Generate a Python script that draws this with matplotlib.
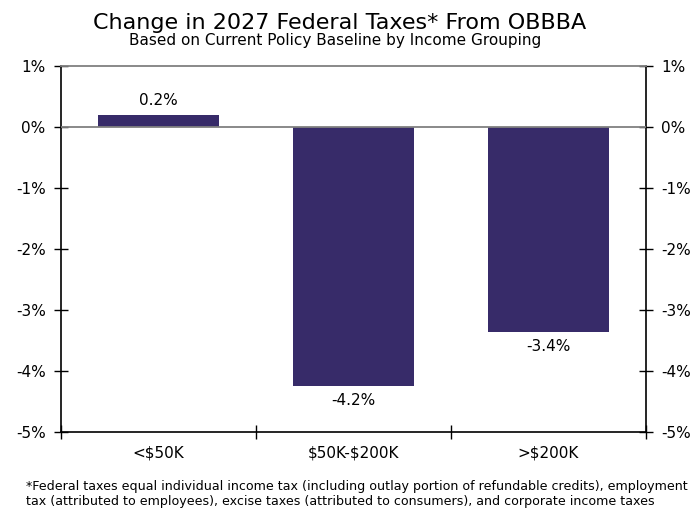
import matplotlib
matplotlib.use('Agg')
import matplotlib.pyplot as plt
from matplotlib.ticker import FixedLocator

# income groups and change in 2027 federal taxes (%)
groups = ['<\\$50K', '\\$50K-\\$200K', '>\\$200K']
change = [0.19, -4.25, -3.37]
yticks = [1, 0, -1, -2, -3, -4, -5]

bar_color = '#372b69'

fig = plt.figure(figsize=(6.94, 5.11), dpi=100)
ax = fig.add_axes([0.0879, 0.1546, 0.8429, 0.7168])

x = list(range(len(groups)))
bars = ax.bar(x, change, width=0.625, color=bar_color, zorder=2)

ax.set_xlim(-0.5, len(groups) - 0.5)
ax.set_ylim(-5, 1)
ax.axhline(0, color='#808080', lw=1.3, zorder=3)

# data labels
for xi, v in zip(x, change):
    if v >= 0:
        ax.annotate(f'{v:.1f}%', (xi, v), xytext=(0, 5), textcoords='offset points',
                    ha='center', va='bottom', fontsize=11)
    else:
        ax.annotate(f'{v:.1f}%', (xi, v), xytext=(0, -5), textcoords='offset points',
                    ha='center', va='top', fontsize=11)

# y axis on both sides
ax.set_yticks(yticks)
ax.set_yticklabels([f'{t}%' for t in yticks])
ax.tick_params(axis='y', which='major', direction='inout', length=10, width=1,
               left=True, right=True, labelleft=True, labelright=True,
               labelsize=11, pad=6)

# category labels at centres, tick marks at boundaries
ax.set_xticks(x)
ax.set_xticklabels(groups)
ax.tick_params(axis='x', which='major', length=0, labelsize=11, pad=10)
ax.xaxis.set_minor_locator(FixedLocator([i - 0.5 for i in range(len(groups) + 1)]))
ax.tick_params(axis='x', which='minor', direction='inout', length=10, width=1)

for side in ['left', 'right', 'bottom']:
    ax.spines[side].set_color('black')
    ax.spines[side].set_linewidth(1.2)
ax.spines['top'].set_color('#808080')
ax.spines['top'].set_linewidth(1.3)

fig.text(0.49, 0.943, 'Change in 2027 Federal Taxes* From OBBBA',
         ha='center', va='baseline', fontsize=16)
fig.text(0.4834, 0.912, 'Based on Current Policy Baseline by Income Grouping',
         ha='center', va='baseline', fontsize=11)

fig.text(0.037, 0.0117,
         '*Federal taxes equal individual income tax (including outlay portion of refundable credits), employment\n'
         'tax (attributed to employees), excise taxes (attributed to consumers), and corporate income taxes',
         ha='left', va='baseline', fontsize=9.1, linespacing=1.2)

fig.savefig('out.png', dpi=100)
